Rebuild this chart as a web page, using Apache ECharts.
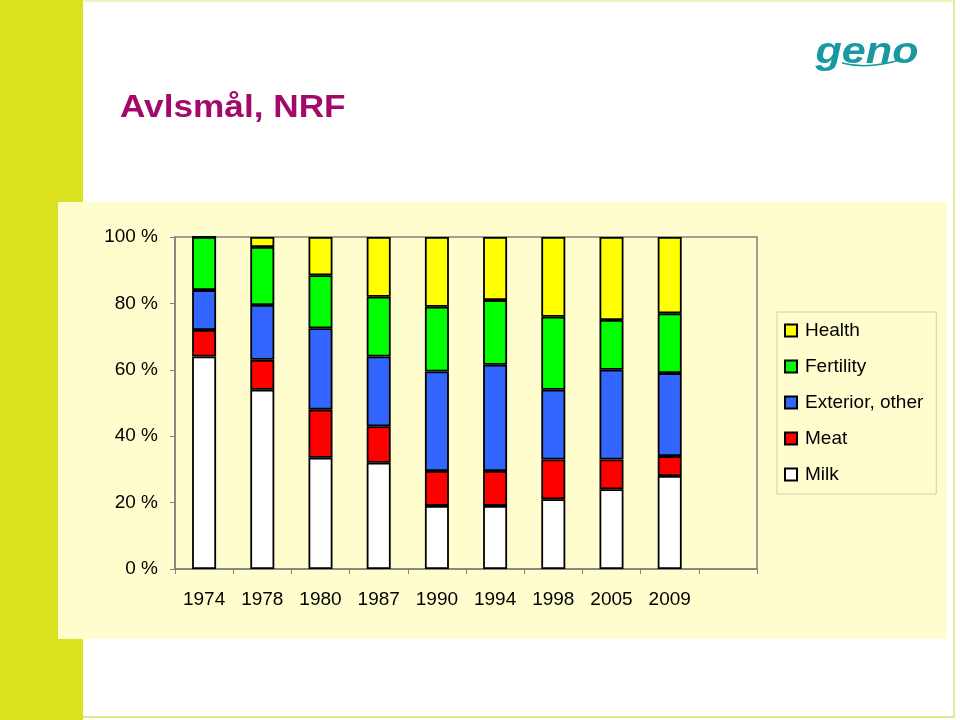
<!DOCTYPE html>
<html>
<head>
<meta charset="utf-8">
<script src="https://cdn.jsdelivr.net/npm/echarts@6/dist/echarts.min.js"></script>
<style>
html,body{margin:0;padding:0;background:#ffffff;}
#chart{width:960px;height:720px;}
</style>
</head>
<body>
<div id="chart"></div>
<script>
var categories = ['1974','1978','1980','1987','1990','1994','1998','2005','2009'];
var milk      = [64, 54, 33.5, 32, 19, 19, 21, 24, 28];
var meat      = [8, 9, 14.5, 11, 10.5, 10.5, 12, 9, 6];
var exterior  = [12, 16.5, 24.5, 21, 30, 32, 21, 27, 25];
var fertility = [16, 17.5, 16, 18, 19.5, 19.5, 22, 15, 18];
var health    = [0, 3, 11.5, 18, 21, 19, 24, 25, 23];
var seriesNames = ['Milk','Meat','Exterior, other','Fertility','Health'];
var yTicks = [0, 20, 40, 60, 80, 100];

var FONT = '"Liberation Sans", Arial, sans-serif';
var colors = ['#FFFFFF','#FF0000','#3366FF','#00FF00','#FFFF00'];
var values = [milk, meat, exterior, fertility, health];

var chart = echarts.init(document.getElementById('chart'), null, {renderer:'canvas'});

var series = seriesNames.map(function(name, i){
  return {
    name: name,
    type: 'bar',
    stack: 'total',
    barWidth: 24,
    data: values[i],
    itemStyle: { color: colors[i], borderColor: '#000000', borderWidth: 1.8 },
    emphasis: { disabled: true }
  };
});

var option = {
  animation: false,
  backgroundColor: '#FFFFFF',
  textStyle: { fontFamily: FONT },
  graphic: [
    { type:'rect', z:-10, shape:{x:0,y:0,width:83,height:720}, style:{fill:'#DCE11F'} },
    { type:'rect', z:-10, shape:{x:83,y:0,width:872,height:2}, style:{fill:'#F0F3BE'} },
    { type:'rect', z:-10, shape:{x:953,y:0,width:2,height:718}, style:{fill:'#E6EB9A'} },
    { type:'rect', z:-10, shape:{x:83,y:716,width:872,height:2}, style:{fill:'#E2E88A'} },
    { type:'rect', z:-9, shape:{x:58,y:202,width:889,height:437}, style:{fill:'#FFFDCD'} },
    { type:'text', z:-5, x:120, y:108, scaleX:1.1,
      style:{ text:'Avlsmål, NRF', fill:'#A3096B', font:'bold 32px ' + FONT, textVerticalAlign:'middle', textAlign:'left' } },
    { type:'text', z:-5, x:867, y:53, scaleX:1.2,
      style:{ text:'geno', fill:'#1699A0', font:'italic bold 36px ' + FONT, textVerticalAlign:'middle', textAlign:'center' } },
    { type:'bezierCurve', z:-5, shape:{x1:842,y1:63,cpx1:868,cpy1:70,x2:903,y2:59},
      style:{ stroke:'#1699A0', lineWidth:1.5, fill:null } }
  ],
  legend: {
    orient: 'vertical',
    left: 777,
    top: 312,
    padding: [9, 13, 10, 7],
    itemGap: 17,
    itemWidth: 12,
    itemHeight: 12,
    icon: 'rect',
    borderColor: '#CFCDA8',
    borderWidth: 1,
    data: ['Health','Fertility','Exterior, other','Meat','Milk'],
    textStyle: { fontFamily: FONT, fontSize: 19, color: '#000000', padding: [0,0,0,3] }
  },
  grid: {
    left: 175, top: 237, width: 582, height: 332,
    show: true, borderColor: '#808080', borderWidth: 1.5, backgroundColor: 'transparent'
  },
  xAxis: {
    type: 'category',
    data: categories.concat(['']),
    axisLine: { lineStyle: { color: '#808080', width: 1.5 } },
    axisTick: { show: true, length: 5, lineStyle: { color: '#808080', width: 1 } },
    axisLabel: { color: '#000000', fontSize: 19, fontFamily: FONT, margin: 21, interval: 0 },
    splitLine: { show: false }
  },
  yAxis: {
    type: 'value',
    min: yTicks[0],
    max: yTicks[yTicks.length - 1],
    interval: yTicks[1] - yTicks[0],
    axisLine: { show: true, lineStyle: { color: '#808080', width: 1.5 } },
    axisTick: { show: true, length: 5, lineStyle: { color: '#808080', width: 1 } },
    axisLabel: { color: '#000000', fontSize: 19, fontFamily: FONT, margin: 17, formatter: '{value} %' },
    splitLine: { show: false }
  },
  series: series
};
chart.setOption(option);
</script>
</body>
</html>
